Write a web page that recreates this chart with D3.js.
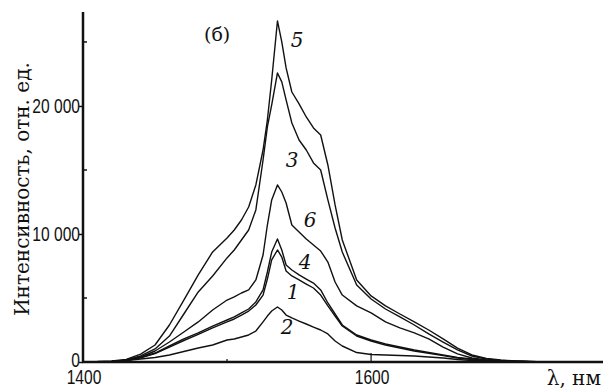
<!DOCTYPE html>
<html>
<head>
<meta charset="utf-8">
<script src="https://cdn.jsdelivr.net/npm/d3@7"></script>
<style>
  body { margin: 0; background: #fff; }
  svg { display: block; }
  .tick-label { font-family: "Liberation Sans", Arial, sans-serif; fill: #111; }
  .serif { font-family: "DejaVu Serif", "Liberation Serif", serif; fill: #111; }
  .curve { fill: none; stroke: #111; stroke-width: 1.4; stroke-linejoin: round; }
</style>
</head>
<body>
<div id="chart"></div>
<script>
// wavelength grid, nm
const wavelengths = [1410, 1420, 1430, 1440, 1450, 1460, 1470, 1480, 1490, 1500, 1505, 1510, 1515, 1520, 1525, 1528, 1531, 1535, 1538, 1541, 1545, 1550, 1555, 1560, 1565, 1570, 1575, 1580, 1590, 1600, 1610, 1620, 1630, 1640, 1650, 1660, 1670, 1680, 1690, 1700, 1710, 1720];

// intensities, rel. units
const curve5 = [40, 80, 200, 620, 1330, 2890, 4840, 6800, 8600, 9690, 10310, 11090, 12110, 13830, 16560, 18900, 22030, 26640, 25000, 22970, 21090, 20160, 19140, 18280, 17730, 15390, 12270, 9530, 6410, 5160, 4380, 3750, 3130, 2500, 1800, 1090, 550, 270, 160, 80, 40, 0];
const curve3 = [20, 50, 160, 470, 1020, 2030, 3750, 5470, 6720, 8130, 8750, 9530, 10310, 11880, 15780, 18360, 20080, 22580, 21880, 20470, 18670, 17340, 16560, 15550, 15000, 12660, 10470, 8590, 6020, 4920, 4140, 3520, 2890, 2190, 1560, 940, 470, 230, 120, 80, 40, 0];
const curve6 = [15, 40, 120, 390, 860, 1560, 2340, 3130, 4060, 4840, 5080, 5390, 5630, 6410, 8360, 10700, 12660, 13830, 13280, 12420, 10700, 10160, 9610, 9140, 8670, 7810, 6250, 5230, 4380, 3830, 3130, 2660, 2270, 1800, 1170, 630, 310, 160, 90, 50, 20, 0];
const curve4 = [15, 40, 120, 350, 700, 1250, 1800, 2270, 2810, 3280, 3520, 3830, 4140, 4690, 5630, 7030, 8590, 9610, 8750, 7580, 7190, 6800, 6480, 6170, 5630, 4610, 3750, 2890, 2110, 1720, 1410, 1170, 940, 740, 550, 350, 230, 120, 80, 40, 15, 0];
const curve1 = [15, 35, 110, 330, 660, 1170, 1680, 2150, 2660, 3130, 3360, 3670, 3980, 4450, 5230, 6480, 7970, 8750, 8200, 7110, 6720, 6410, 6090, 5780, 5230, 4380, 3590, 2810, 2030, 1640, 1330, 1090, 860, 680, 500, 310, 200, 110, 70, 35, 15, 0];
const curve2 = [15, 40, 120, 230, 350, 550, 820, 1090, 1330, 1720, 1800, 1950, 2110, 2420, 3130, 3590, 3980, 4300, 4060, 3670, 3440, 3200, 2970, 2730, 2500, 2190, 1640, 1250, 740, 590, 550, 510, 470, 390, 310, 200, 120, 80, 40, 15, 0, 0];

const seriesNames = ["5", "3", "6", "4", "1", "2"];
const seriesValues = [curve5, curve3, curve6, curve4, curve1, curve2];

const yMajorTicks = [0, 10000, 20000];
const yMinorTicks = [5000, 15000, 25000];
const xTickLabels = [1400, 1600];

const width = 603, height = 389;

const svg = d3.select("#chart")
  .append("svg")
  .attr("width", width)
  .attr("height", height);

const x = d3.scaleLinear().domain([1400, 1761]).range([83, 603]);
const y = d3.scaleLinear().domain([0, 27340]).range([362, 12]);

const fmt = d3.formatLocale({decimal: ".", thousands: " ", grouping: [3], currency: ["", ""]}).format(",");

const line = d3.line()
  .x(d => x(d[0]))
  .y(d => y(d[1]));

// curves
svg.append("g")
  .selectAll("path")
  .data(seriesValues)
  .enter()
  .append("path")
  .attr("class", "curve")
  .attr("d", vals => line(wavelengths.map((w, i) => [w, vals[i]])));

// y axis: major ticks outward, minor ticks inward
const yAxis = svg.append("g")
  .attr("transform", `translate(${x(1400)},0)`)
  .call(d3.axisLeft(y).tickValues(yMajorTicks).tickSize(4).tickFormat(""));
yAxis.select(".domain").remove();
yAxis.selectAll(".tick line").attr("stroke", "#111").attr("stroke-width", 1.5);

svg.append("g")
  .selectAll("line")
  .data(yMinorTicks)
  .enter()
  .append("line")
  .attr("x1", x(1400))
  .attr("x2", x(1400) + 4)
  .attr("y1", d => y(d))
  .attr("y2", d => y(d))
  .attr("stroke", "#111")
  .attr("stroke-width", 1.5);

// narrow-looking tick labels: squeeze horizontally around the anchor point
svg.append("g")
  .selectAll("text")
  .data(yMajorTicks)
  .enter()
  .append("text")
  .attr("class", "tick-label")
  .style("font-size", "20px")
  .attr("text-anchor", "end")
  .attr("transform", d => `translate(${x(1400) - 3},${y(d) + (d === 0 ? 5 : 7)}) scale(0.78,1)`)
  .text(d => fmt(d));

// x axis ticks
svg.append("g")
  .selectAll("line")
  .data([1500])
  .enter()
  .append("line")
  .attr("x1", d => x(d)).attr("x2", d => x(d))
  .attr("y1", y(0)).attr("y2", y(0) - 3)
  .attr("stroke", "#111").attr("stroke-width", 1.2);

svg.append("line")
  .attr("x1", x(1600)).attr("x2", x(1600))
  .attr("y1", y(0)).attr("y2", y(0) - 9)
  .attr("stroke", "#111").attr("stroke-width", 1.2);

svg.append("g")
  .selectAll("text")
  .data(xTickLabels)
  .enter()
  .append("text")
  .attr("class", "tick-label")
  .style("font-size", "20px")
  .attr("text-anchor", "middle")
  .attr("transform", d => `translate(${x(d) + 1},384) scale(0.78,1)`)
  .text(d => d);

// axis lines
svg.append("line")
  .attr("x1", x(1400)).attr("x2", x(1400))
  .attr("y1", y(27340)).attr("y2", y(0) + 1)
  .attr("stroke", "#111").attr("stroke-width", 2.5);
svg.append("line")
  .attr("x1", x(1400) - 1).attr("x2", width)
  .attr("y1", y(0)).attr("y2", y(0))
  .attr("stroke", "#111").attr("stroke-width", 2.5);

// axis titles
svg.append("text")
  .attr("class", "serif")
  .attr("transform", "translate(29,189) rotate(-90)")
  .attr("text-anchor", "middle")
  .style("font-size", "20px")
  .text("Интенсивность, отн. ед.");

svg.append("text")
  .attr("class", "serif")
  .attr("x", 601)
  .attr("y", 385)
  .attr("text-anchor", "end")
  .style("font-size", "20px")
  .text("λ, нм");

svg.append("text")
  .attr("class", "serif")
  .attr("x", 204)
  .attr("y", 41)
  .style("font-size", "19px")
  .text("(б)");

// curve labels
const labelPos = {"5": [297, 40], "3": [292, 160], "6": [310, 220], "4": [305, 262], "1": [293, 292], "2": [287, 327]};
svg.append("g")
  .selectAll("text")
  .data(seriesNames)
  .enter()
  .append("text")
  .attr("class", "serif")
  .attr("x", d => labelPos[d][0])
  .attr("y", d => labelPos[d][1] + 7)
  .attr("text-anchor", "middle")
  .style("font-size", "20px")
  .style("font-style", "italic")
  .text(d => d);
</script>
</body>
</html>
